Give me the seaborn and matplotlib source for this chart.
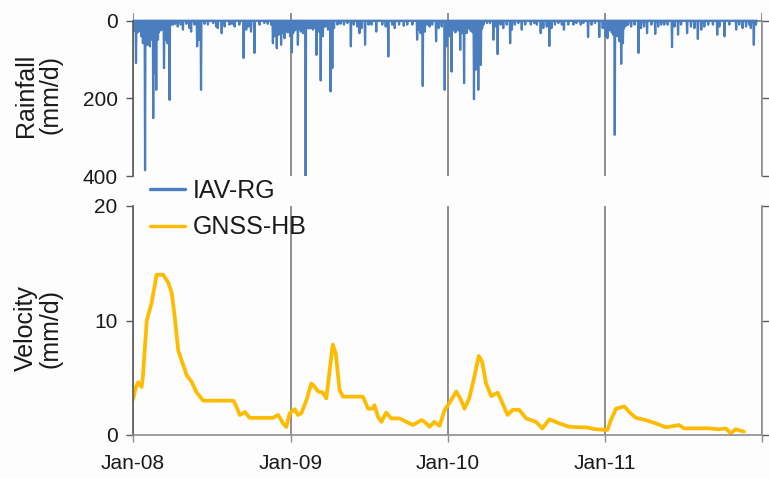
import matplotlib
matplotlib.use("Agg")
import matplotlib.pyplot as plt
import pandas as pd
import seaborn as sns

# ---------------------------------------------------------------- data
# Daily rainfall at the rain gauge (mm/d); days not listed had no rain.
rain_days_2008 = ["01-02", "01-04", "01-08", "01-11", "01-14", "01-17", "01-20", "01-22", "01-24", "01-26",
                  "01-29", "02-01", "02-03", "02-06", "02-09", "02-11", "02-14", "02-17", "02-20", "02-22",
                  "02-24", "02-28", "03-01", "03-03", "03-06", "03-09", "03-13", "03-16", "03-18", "03-21",
                  "03-24", "03-26", "03-30", "04-03", "04-08", "04-14", "04-21", "04-26", "05-04", "05-11",
                  "05-15", "05-23", "05-29", "06-02", "06-07", "06-15", "06-23", "07-05", "07-12", "07-16",
                  "07-25", "08-01", "08-12", "08-18", "08-24", "09-04", "09-14", "09-20", "09-25", "10-01",
                  "10-09", "10-21", "11-01", "11-09", "11-17", "11-21", "11-25", "11-30", "12-04", "12-10",
                  "12-14", "12-18", "12-25", "12-31"]
rain_mm_2008 = [20, 25, 109, 30, 28, 22, 40, 30, 58, 25,
                385, 35, 62, 53, 66, 30, 49, 251, 135, 28,
                178, 49, 30, 23, 25, 20, 122, 49, 30, 58,
                20, 204, 10, 10, 8, 15, 10, 23, 8, 19,
                28, 10, 66, 49, 178, 8, 10, 6, 15, 19,
                32, 15, 10, 8, 15, 10, 96, 23, 15, 28,
                83, 10, 6, 8, 10, 58, 40, 71, 36, 62,
                32, 45, 30, 40]

rain_days_2009 = ["01-02", "01-04", "01-07", "01-10", "01-13", "01-18", "01-21", "01-25", "01-30", "02-02",
                  "02-05", "02-10", "02-13", "02-17", "02-22", "02-26", "03-02", "03-04", "03-07", "03-12",
                  "03-17", "03-20", "03-24", "03-29", "04-04", "04-08", "04-12", "04-20", "04-27", "05-05",
                  "05-13", "05-21", "05-28", "06-05", "06-10", "06-15", "06-23", "07-01", "07-08", "07-19",
                  "08-02", "08-10", "08-16", "08-25", "08-31", "09-10", "09-21", "09-29", "10-11", "10-22",
                  "10-26", "10-30", "11-04", "11-09", "11-14", "11-20", "11-26", "12-05", "12-11", "12-18",
                  "12-25", "12-30"]
rain_mm_2009 = [20, 82, 32, 25, 23, 62, 20, 28, 32, 25,
                400, 19, 20, 19, 23, 18, 88, 20, 28, 154,
                40, 15, 15, 23, 182, 122, 19, 10, 8, 10,
                6, 66, 10, 15, 32, 19, 62, 10, 10, 28,
                10, 15, 92, 10, 19, 10, 13, 10, 10, 49,
                23, 32, 168, 28, 10, 15, 10, 53, 19, 15,
                178, 66]

rain_days_2010 = ["01-02", "01-05", "01-10", "01-13", "01-16", "01-19", "01-22", "01-26", "01-30", "02-03",
                  "02-08", "02-11", "02-14", "02-17", "02-20", "02-23", "02-26", "03-01", "03-03", "03-07",
                  "03-10", "03-13", "03-16", "03-19", "03-22", "03-25", "04-02", "04-09", "04-17", "04-21",
                  "04-27", "05-04", "05-10", "05-18", "05-26", "05-30", "06-06", "06-14", "06-22", "06-30",
                  "07-13", "07-21", "07-27", "08-05", "08-11", "08-19", "08-25", "08-30", "09-07", "09-15",
                  "09-23", "09-28", "10-08", "10-20", "10-27", "11-06", "11-12", "11-23", "12-01", "12-09",
                  "12-19", "12-27"]
rain_mm_2010 = [30, 40, 131, 25, 23, 30, 19, 25, 75, 32,
                161, 25, 32, 20, 19, 25, 28, 30, 202, 126,
                40, 178, 35, 114, 20, 10, 6, 6, 49, 15,
                86, 10, 19, 10, 58, 23, 10, 6, 23, 10,
                10, 6, 10, 32, 19, 15, 65, 19, 10, 6,
                10, 23, 10, 10, 6, 10, 6, 42, 10, 6,
                42, 19]

rain_days_2011 = ["01-02", "01-04", "01-07", "01-10", "01-14", "01-17", "01-20", "01-24", "01-27", "01-30",
                  "02-01", "02-04", "02-06", "02-08", "02-12", "02-14", "02-17", "02-20", "02-24", "03-03",
                  "03-11", "03-20", "03-26", "04-02", "04-09", "04-19", "04-28", "05-05", "05-12", "05-19",
                  "05-27", "06-06", "06-12", "06-20", "06-27", "07-11", "07-20", "07-28", "08-05", "08-13",
                  "08-20", "08-29", "09-09", "09-19", "09-24", "10-06", "10-17", "11-02", "11-09", "11-17",
                  "11-25", "12-03", "12-06", "12-13", "12-18"]
rain_mm_2011 = [40, 32, 45, 25, 23, 30, 36, 294, 35, 40,
                30, 53, 25, 111, 58, 20, 15, 12, 10, 15,
                10, 83, 19, 15, 32, 10, 34, 15, 10, 10,
                10, 68, 15, 36, 10, 32, 15, 19, 47, 23,
                15, 10, 10, 36, 15, 40, 10, 23, 10, 19,
                15, 10, 19, 62, 10]

# Landslide surface velocity from the GNSS station (mm/d)
vel_dates = ["2008-01-01", "2008-01-08", "2008-01-13", "2008-01-21", "2008-01-24", "2008-02-02",
             "2008-02-13", "2008-02-25", "2008-03-11", "2008-03-23", "2008-03-31", "2008-04-07",
             "2008-04-15", "2008-04-23", "2008-05-05", "2008-05-16", "2008-05-28", "2008-06-12",
             "2008-08-21", "2008-08-28", "2008-09-05", "2008-09-17", "2008-09-28", "2008-11-21",
             "2008-12-03", "2008-12-15", "2008-12-22", "2008-12-30", "2009-01-11", "2009-01-18",
             "2009-01-26", "2009-02-07", "2009-02-18", "2009-02-26", "2009-03-06", "2009-03-17",
             "2009-03-25", "2009-04-02", "2009-04-09", "2009-04-16", "2009-04-25", "2009-05-03",
             "2009-06-18", "2009-06-30", "2009-07-11", "2009-07-15", "2009-07-23", "2009-07-31",
             "2009-08-11", "2009-08-23", "2009-09-11", "2009-09-27", "2009-10-12", "2009-11-01",
             "2009-11-08", "2009-11-20", "2009-12-01", "2009-12-13", "2009-12-25", "2010-01-05",
             "2010-01-21", "2010-02-01", "2010-02-09", "2010-02-20", "2010-03-04", "2010-03-14",
             "2010-03-22", "2010-03-31", "2010-04-12", "2010-04-27", "2010-05-05", "2010-05-20",
             "2010-06-01", "2010-06-16", "2010-07-02", "2010-07-25", "2010-08-09", "2010-08-25",
             "2010-09-17", "2010-10-10", "2010-11-03", "2010-11-18", "2010-12-11", "2011-01-07",
             "2011-01-15", "2011-01-27", "2011-02-15", "2011-02-27", "2011-03-14", "2011-04-06",
             "2011-04-29", "2011-05-23", "2011-06-22", "2011-07-04", "2011-08-31", "2011-09-23",
             "2011-10-09", "2011-10-20", "2011-11-01", "2011-11-20"]
vel_mm = [3.1, 4.2, 4.6, 4.2, 5.1, 10.0,
          11.5, 14.0, 14.0, 13.3, 12.4, 10.3,
          7.4, 6.5, 5.2, 4.65, 3.7, 3.0,
          3.0, 2.5, 1.75, 2.0, 1.5, 1.5,
          1.75, 1.0, 0.7, 1.9, 2.25, 1.75,
          1.9, 3.05, 4.5, 4.2, 3.8, 3.7,
          3.2, 5.7, 7.9, 7.1, 3.9, 3.35,
          3.35, 2.3, 2.3, 2.6, 1.6, 1.15,
          1.95, 1.45, 1.45, 1.15, 0.87, 1.3,
          1.15, 0.72, 1.15, 0.8, 2.2, 2.8,
          3.8, 3.05, 2.3, 3.2, 5.1, 6.9,
          6.4, 4.5, 3.4, 3.7, 3.05, 1.75,
          2.2, 2.2, 1.45, 1.15, 0.58, 1.37,
          1.02, 0.72, 0.67, 0.67, 0.5, 0.44,
          1.3, 2.3, 2.5, 2.0, 1.5, 1.3,
          1.02, 0.67, 0.87, 0.58, 0.58, 0.5,
          0.58, 0.15, 0.5, 0.29]

tick_dates = ["2008-01-01", "2009-01-01", "2010-01-01", "2011-01-01", "2012-01-01"]
tick_labels = ["Jan-08", "Jan-09", "Jan-10", "Jan-11", ""]
rain_ticks = [0, 200, 400]
vel_ticks = [0, 10, 20]

# ---------------------------------------------------------------- tables
rain_parts = []
for year, days, mm in [(2008, rain_days_2008, rain_mm_2008), (2009, rain_days_2009, rain_mm_2009),
                       (2010, rain_days_2010, rain_mm_2010), (2011, rain_days_2011, rain_mm_2011)]:
    rain_parts.append(pd.Series(mm, index=pd.to_datetime([f"{year}-{d}" for d in days])))
rain = pd.concat(rain_parts)
rain = rain.groupby(level=0).max().reindex(
    pd.date_range("2008-01-01", "2011-12-20", freq="D"), fill_value=0)
rain_df = pd.DataFrame({"date": rain.index, "mm": rain.values})
vel_df = pd.DataFrame({"date": pd.to_datetime(vel_dates), "v": vel_mm})

# ---------------------------------------------------------------- style
sns.set_theme(style="white")
plt.rcParams["font.family"] = ["Liberation Sans", "DejaVu Sans"]

BLUE = "#4a7ebf"
GOLD = "#ffbb00"
GRID = "#8e8e8e"
AXIS = "#5a5a5a"
TEXT = "#1a1a1a"
BG = "#fdfdfd"

W, H = 769, 479
fig = plt.figure(figsize=(W / 100, H / 100), dpi=100, facecolor=BG)
x0, x1 = 133, 762
ax_r = fig.add_axes([x0 / W, 1 - 176 / H, (x1 - x0) / W, (176 - 13) / H], facecolor=BG)
ax_v = fig.add_axes([x0 / W, 1 - 435 / H, (x1 - x0) / W, (435 - 206) / H], facecolor=BG, sharex=ax_r)

# ---------------------------------------------------------------- rainfall
sns.lineplot(data=rain_df, x="date", y="mm", ax=ax_r, color=BLUE, lw=1.6,
             estimator=None, label="IAV-RG", legend=False)
ax_r.set_ylim(400, -20)
ax_r.set_yticks(rain_ticks)
ax_r.axhline(0, color=GRID, lw=1.4, zorder=1)
ax_r.grid(axis="x", color=GRID, lw=1.4)
ax_r.grid(axis="y", visible=False)
for side in ("top", "bottom"):
    ax_r.spines[side].set_visible(False)
ax_r.spines["left"].set_bounds(0, 400)
ax_r.spines["right"].set_bounds(0, 400)
ax_r.tick_params(axis="x", bottom=False, labelbottom=False)

# ---------------------------------------------------------------- velocity
sns.lineplot(data=vel_df, x="date", y="v", ax=ax_v, color=GOLD, lw=2.7,
             estimator=None, label="GNSS-HB", legend=False)
ax_v.set_ylim(0, 20)
ax_v.set_yticks(vel_ticks)
ax_v.set_xlim(pd.Timestamp("2008-01-01"), pd.Timestamp("2012-01-01"))
ax_v.set_xticks(pd.to_datetime(tick_dates))
ax_v.set_xticklabels(tick_labels)
ax_v.grid(axis="x", color=GRID, lw=1.4)
ax_v.grid(axis="y", visible=False)
ax_v.spines["top"].set_visible(False)

for ax in (ax_r, ax_v):
    for side in ("left", "right", "bottom"):
        ax.spines[side].set_color(GRID)
        ax.spines[side].set_linewidth(1.2)
    ax.spines["left"].set_color(AXIS)
    ax.tick_params(axis="y", left=True, right=True, labelright=False, direction="out",
                   length=5, width=1.0, color=AXIS, pad=6, labelsize=15, labelcolor=TEXT)
    ax.set_xlabel("")
ax_v.tick_params(axis="x", bottom=True, direction="out", length=5, width=1.0,
                 color=GRID, pad=9, labelsize=15, labelcolor=TEXT)

ax_r.set_ylabel("Rainfall\n(mm/d)", fontsize=18, color=TEXT, linespacing=1.05)
ax_v.set_ylabel("Velocity\n(mm/d)", fontsize=18, color=TEXT, linespacing=1.05)
# label anchor is its right-hand edge once rotated
ax_r.yaxis.set_label_coords((63 - x0) / (x1 - x0), (176 - 95) / 163)
ax_v.yaxis.set_label_coords((63 - x0) / (x1 - x0), (435 - 328) / 229)

# ---------------------------------------------------------------- legend
handles = [ax_r.get_lines()[0], ax_v.get_lines()[0]]
leg = fig.legend(handles, ["IAV-RG", "GNSS-HB"], loc="upper left",
                 bbox_to_anchor=(150 / W, 1 - 179 / H), frameon=False, fontsize=18,
                 handlelength=1.4, handletextpad=0.3, labelspacing=0.5, borderpad=0,
                 borderaxespad=0)
for line in leg.get_lines():
    line.set_linewidth(2.4)
for t in leg.get_texts():
    t.set_color(TEXT)

fig.savefig("out.png", dpi=100, facecolor=BG)
